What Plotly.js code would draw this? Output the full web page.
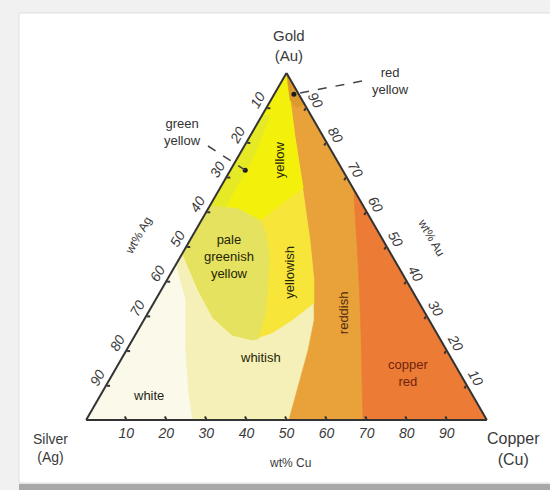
<!DOCTYPE html>
<html><head><meta charset="utf-8">
<script src="https://cdn.plot.ly/plotly-3.0.1.min.js"></script>
<style>html,body{margin:0;padding:0;background:#fff}#chart{width:550px;height:490px}</style>
</head><body><div id="chart"></div>
<script>
// ---- data: region outlines in wt% [Au, Ag, Cu] ----
const wholeAu = [100, 0, 0, 100];
const wholeAg = [0, 100, 0, 0];
const wholeCu = [0, 0, 100, 0];

const whiteAu = [44.7, 34.6, 20.2, 8.6, 0, 0, 44.7];
const whiteAg = [55.3, 58.0, 65.2, 70.3, 73.6, 100, 55.3];
const whiteCu = [0, 7.4, 14.6, 21.1, 26.4, 0, 0];

const reddishAu = [100, 92.2, 81.6, 72.0, 62.5, 51.9, 40.3, 28.8, 20.2, 11.5, 0, 0, 100];
const reddishAg = [0, 3.0, 7.1, 10.6, 14.2, 18.2, 23.0, 28.7, 34.5, 40.9, 49.4, 0, 0];
const reddishCu = [0, 4.8, 11.3, 17.4, 23.3, 29.9, 36.7, 42.5, 45.3, 47.6, 50.6, 100, 0];

const copperAu = [66.3, 60.5, 46.1, 34.6, 23.1, 11.5, 0, 0, 66.3];
const copperAg = [0, 2.7, 9.1, 14.4, 19.8, 25.4, 30.9, 0, 0];
const copperCu = [33.7, 36.8, 44.8, 51.0, 57.1, 63.1, 69.1, 100, 33.7];

const yellowishAu = [100, 48.1, 37.5, 29.4, 24.5, 23.1, 25.1, 28.8, 33.7, 40.3, 51.9, 62.5, 72.0, 81.6, 92.2, 100];
const yellowishAg = [0, 51.9, 53.3, 53.6, 51.3, 47.0, 41.1, 34.2, 26.3, 23.0, 18.2, 14.2, 10.6, 7.1, 3.0, 0];
const yellowishCu = [0, 0, 9.2, 17.0, 24.2, 29.9, 33.8, 37.0, 40.0, 36.7, 29.9, 23.3, 17.4, 11.3, 4.8, 0];

const paleAu = [62.0, 48.1, 37.5, 29.4, 24.5, 23.1, 23.3, 30.3, 38.9, 47.6, 54.2, 57.6, 61.1, 62.0];
const paleAg = [38.0, 51.9, 53.3, 53.6, 51.3, 47.0, 45.5, 40.2, 35.2, 30.5, 28.2, 27.6, 31.5, 38.0];
const paleCu = [0, 0, 9.2, 17.0, 24.2, 29.9, 31.2, 29.5, 25.9, 21.9, 17.6, 14.8, 7.4, 0];

const yellowAu = [100, 62.0, 61.1, 57.6, 62.5, 66.9, 72.0, 81.6, 92.2, 100];
const yellowAg = [0, 38.0, 31.5, 27.6, 19.9, 12.4, 10.6, 7.1, 3.0, 0];
const yellowCu = [0, 0, 7.4, 14.8, 17.6, 20.7, 17.4, 11.3, 4.8, 0];

const greenAu = [88, 62, 61.5, 75, 88];
const greenAg = [12, 38, 34.5, 21, 10];
const greenCu = [0, 0, 4, 4, 2];

const redYellowAu = [100, 92.2, 90, 91, 100];
const redYellowAg = [0, 3.0, 2.5, 0, 0];
const redYellowCu = [0, 4.8, 7.5, 9, 0];

// pointer markers (green yellow, red yellow)
const pointAu = [72.0, 93.9];
const pointAg = [24.3, 1.2];
const pointCu = [3.7, 4.9];

// region labels
const labelText = ['yellow', 'yellowish', 'reddish', 'pale<br>greenish<br>yellow', 'whitish', 'white', 'copper<br>red'];
const labelAu = [74.9, 42.7, 30.8, 47.0, 17.9, 7.2, 13.5];
const labelAg = [14.4, 27.8, 20.5, 40.8, 47.6, 80.7, 13.0];
const labelCu = [10.7, 29.5, 48.7, 12.2, 34.5, 12.1, 73.5];
const labelAngle = [-90, -90, -90, 0, 0, 0, 0];
const labelColor = ['#262608', '#262608', '#4e2a0c', '#262608', '#262608', '#262618', '#70240c'];

// axis ticks
const tickVals = [10, 20, 30, 40, 50, 60, 70, 80, 90];
const tickLabelsAg = ['90', '80', '70', '60', '50', '40', '30', '20', '10']; // left edge (a axis)
const tickLabelsCu = ['90', '80', '70', '60', '50', '40', '30', '20', '10']; // bottom edge (b axis)
const tickLabelsAu = ['90', '80', '70', '60', '50', '40', '30', '20', '10']; // right edge (c axis)

// ---- build ----
const FONT = 'Liberation Sans, Arial, sans-serif';
function region(a, b, c, color) {
  return {type: 'scatterternary', mode: 'lines', a: a, b: b, c: c, fill: 'toself',
          fillcolor: color, line: {color: color, width: 0.6}, hoverinfo: 'skip', showlegend: false};
}
const traces = [
  region(wholeAu, wholeAg, wholeCu, '#f4f0b8'),
  region(whiteAu, whiteAg, whiteCu, '#fbfaea'),
  region(reddishAu, reddishAg, reddishCu, '#e9a23a'),
  region(copperAu, copperAg, copperCu, '#ec7b35'),
  region(yellowishAu, yellowishAg, yellowishCu, '#f7e53a'),
  region(paleAu, paleAg, paleCu, '#e4e25e'),
  region(yellowAu, yellowAg, yellowCu, '#f3f10c'),
  region(greenAu, greenAg, greenCu, '#e6ea26'),
  region(redYellowAu, redYellowAg, redYellowCu, '#dc9a2c'),
  {type: 'scatterternary', mode: 'markers', a: pointAu, b: pointAg, c: pointCu,
   marker: {color: '#1a1a1a', size: 5, symbol: 'circle'}, hoverinfo: 'skip', showlegend: false}
];

// layout geometry
const M = {l: 86, r: 63, t: 73, b: 70};
const W = 550, H = 490;
const GW = W - M.l - M.r, GH = H - M.t - M.b;
function tern(a, b, c) { const s = a + b + c; return {x: (c + a / 2) / s, y: a / s}; }
function px(x, y) { return {x: (x - M.l) / GW, y: (H - M.b - y) / GH}; }

const annotations = [];
labelText.forEach((t, i) => {
  const p = tern(labelAu[i], labelAg[i], labelCu[i]);
  annotations.push({xref: 'paper', yref: 'paper', x: p.x, y: p.y, xanchor: 'center', yanchor: 'middle',
    text: t, showarrow: false, textangle: labelAngle[i],
    font: {family: FONT, size: 13, color: labelColor[i]}, align: 'center'});
});
function outsideText(x, y, text, size, extra) {
  const p = px(x, y);
  annotations.push(Object.assign({xref: 'paper', yref: 'paper', x: p.x, y: p.y, xanchor: 'center', yanchor: 'middle',
    text: text, showarrow: false, align: 'center', font: {family: FONT, size: size, color: '#3a3a3a'}}, extra || {}));
}
outsideText(289, 46, 'Gold<br>(Au)', 15);
outsideText(50, 448, 'Silver<br>(Ag)', 14);
outsideText(513, 449, 'Copper<br>(Cu)', 16);
outsideText(290, 463, 'wt% Cu', 12);
outsideText(138, 236, 'wt% Ag', 12, {textangle: -60});
outsideText(431, 237, 'wt% Au', 12, {textangle: 60});
outsideText(182, 132, 'green<br>yellow', 13, {font: {family: FONT, size: 13, color: '#333'}});
outsideText(390, 81, 'red<br>yellow', 13, {font: {family: FONT, size: 13, color: '#333'}});

const gy = tern(pointAu[0], pointAg[0], pointCu[0]);
const ry = tern(pointAu[1], pointAg[1], pointCu[1]);
const gyStart = px(208, 146), ryStart = px(362, 81);

const shapes = [
  {type: 'rect', xref: 'paper', yref: 'paper', layer: 'below', x0: px(0,0).x, x1: px(550,0).x, y0: px(0,490).y, y1: px(0,0).y,
   fillcolor: '#f1f1f1', line: {width: 0}},
  {type: 'rect', xref: 'paper', yref: 'paper', layer: 'below', x0: px(19,0).x, x1: px(552,0).x, y0: px(0,483).y, y1: px(0,13).y,
   fillcolor: '#ffffff', line: {color: '#dedede', width: 1}},
  {type: 'rect', xref: 'paper', yref: 'paper', layer: 'below', x0: px(19,0).x, x1: px(552,0).x, y0: px(0,490).y, y1: px(0,484).y,
   fillcolor: '#a8a8a8', line: {width: 0}},
  {type: 'line', xref: 'paper', yref: 'paper', x0: gyStart.x, y0: gyStart.y, x1: gy.x, y1: gy.y,
   line: {color: '#444', width: 1.5, dash: 'dash'}},
  {type: 'line', xref: 'paper', yref: 'paper', x0: ryStart.x, y0: ryStart.y, x1: ry.x, y1: ry.y,
   line: {color: '#444', width: 1.5, dash: 'dash'}}
];

function axis(labels, angle) {
  return {title: {text: ''}, tickmode: 'array', tickvals: tickVals, ticktext: labels, tickangle: angle,
    ticks: 'inside', ticklen: 3, tickwidth: 2, tickcolor: '#333', showline: true, linecolor: '#333', linewidth: 2,
    showgrid: false, layer: 'above traces',
    tickfont: {family: FONT, size: 14, color: '#3a3a3a', style: 'italic'}};
}

const layout = {
  width: W, height: H, margin: M,
  paper_bgcolor: '#ffffff', plot_bgcolor: 'rgba(0,0,0,0)',
  showlegend: false, hovermode: false,
  ternary: {sum: 100, bgcolor: 'rgba(0,0,0,0)', domain: {x: [0, 1], y: [0, 1]},
    aaxis: axis(tickLabelsAg, -60),
    baxis: axis(tickLabelsCu, 0),
    caxis: axis(tickLabelsAu, 60)},
  annotations: annotations,
  shapes: shapes
};

Plotly.newPlot('chart', traces, layout, {staticPlot: true, displayModeBar: false});
</script>
</body></html>
